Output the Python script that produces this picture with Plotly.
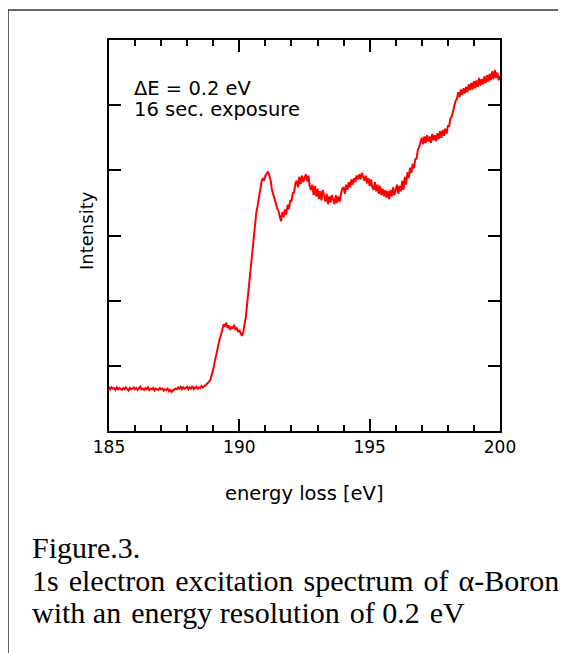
import numpy as np
import plotly.graph_objects as go

# ---- data ----
energy_start, energy_step = 185.0, 0.05
intensity = [
    0.68,0.64,0.67,0.65,0.66,0.63,0.67,0.64,0.66,0.65,
    0.63,0.66,0.64,0.67,0.65,0.62,0.66,0.64,0.65,0.67,
    0.64,0.66,0.63,0.65,0.68,0.64,0.65,0.63,0.66,0.64,
    0.67,0.63,0.65,0.64,0.66,0.62,0.65,0.64,0.63,0.66,
    0.64,0.65,0.62,0.64,0.63,0.65,0.61,0.63,0.60,0.62,
    0.63,0.65,0.64,0.67,0.65,0.68,0.64,0.67,0.65,0.66,
    0.68,0.64,0.67,0.65,0.69,0.64,0.66,0.68,0.65,0.67,
    0.66,0.69,0.67,0.68,0.70,0.72,0.74,0.76,0.80,0.86,
    0.95,1.05,1.15,1.25,1.30,1.42,1.48,1.58,1.64,1.60,
    1.66,1.58,1.62,1.55,1.60,1.57,1.63,1.56,1.58,1.52,
    1.55,1.50,1.46,1.52,1.62,1.75,1.95,2.15,2.40,2.65,
    2.85,3.05,3.20,3.35,3.45,3.60,3.72,3.82,3.88,3.84,
    3.92,3.95,3.98,3.92,3.85,3.70,3.62,3.55,3.50,3.42,
    3.38,3.28,3.22,3.36,3.28,3.40,3.32,3.47,3.40,3.54,
    3.52,3.65,3.66,3.80,3.84,3.74,3.90,3.79,3.92,3.82,
    3.88,3.94,3.83,3.92,3.76,3.70,3.78,3.62,3.76,3.60,
    3.72,3.56,3.68,3.54,3.70,3.58,3.52,3.64,3.48,3.60,
    3.51,3.62,3.54,3.48,3.62,3.50,3.60,3.52,3.64,3.72,
    3.74,3.64,3.78,3.70,3.82,3.74,3.86,3.78,3.88,3.82,
    3.92,3.86,3.94,3.86,3.96,3.88,3.84,3.92,3.80,3.88,
    3.76,3.86,3.74,3.70,3.82,3.68,3.78,3.64,3.76,3.62,
    3.72,3.60,3.70,3.58,3.68,3.56,3.70,3.60,3.74,3.62,
    3.72,3.78,3.64,3.76,3.68,3.84,3.70,3.90,3.78,3.97,
    3.88,4.04,3.96,4.10,4.03,4.17,4.18,4.32,4.36,4.44,
    4.50,4.40,4.52,4.42,4.54,4.44,4.52,4.42,4.56,4.46,
    4.54,4.45,4.57,4.48,4.60,4.50,4.62,4.53,4.64,4.56,
    4.68,4.68,4.80,4.83,4.92,4.96,5.07,5.10,5.20,5.12,
    5.24,5.16,5.26,5.18,5.28,5.20,5.32,5.23,5.34,5.24,
    5.37,5.26,5.38,5.28,5.42,5.30,5.40,5.32,5.44,5.34,
    5.46,5.36,5.48,5.38,5.52,5.40,5.54,5.42,5.50,5.38,
    5.45,
]
energy = np.round(energy_start + energy_step * np.arange(len(intensity)), 2)

x_tick_vals = [185, 190, 195, 200]
x_tick_text = ["185", "190", "195", "200"]
y_tick_vals = [1, 2, 3, 4, 5]

note_lines = ["\u0394E = 0.2 eV", "16 sec. exposure"]
hs = "\u200a"  # hair space: the reference caption has slightly wide word gaps
caption_lines = ["Figure.3.",
                 "1s " + hs + "electron " + hs + "excitation " + hs + "spectrum " + hs
                 + "of " + hs + "\u03b1-Boron",
                 "with an " + hs + "energy resolution " + hs + "of 0.2 " + hs + "eV"]

# the page body adds an 8px offset; work in window pixels, then shift
OFF = 8
W, H = 566 - OFF, 653 - OFF
L, R, T, B = 109, 500, 40, 431          # plot area in window pixels
pw, ph = R - L, B - T


def px(x):
    return (x - L) / pw


def py(y):
    return (B - y) / ph


fig = go.Figure()
fig.add_trace(go.Scatter(x=energy, y=intensity, mode="lines",
                         line=dict(color="#ff0000", width=2),
                         hoverinfo="skip", showlegend=False))

sans = "DejaVu Sans"
fig.update_layout(
    width=W, height=H,
    margin=dict(l=L - OFF, r=W - (R - OFF), t=T - OFF, b=H - (B - OFF)),
    paper_bgcolor="white", plot_bgcolor="white",
    showlegend=False,
    xaxis=dict(range=[185, 200], tickvals=x_tick_vals, ticktext=x_tick_text,
               ticks="inside", ticklen=12, tickwidth=1.5, tickcolor="black",
               minor=dict(dtick=1, tick0=185, ticks="inside", ticklen=6,
                          tickwidth=1.5, tickcolor="black"),
               showline=True, linewidth=2, linecolor="black", mirror="ticks",
               showgrid=False, zeroline=False,
               tickfont=dict(family=sans, size=17, color="black")),
    yaxis=dict(range=[0, 6], tickvals=y_tick_vals, showticklabels=False,
               ticks="inside", ticklen=12, tickwidth=1.5, tickcolor="black",
               showline=True, linewidth=2, linecolor="black", mirror="ticks",
               showgrid=False, zeroline=False),
)

ann = []
ann.append(dict(text=note_lines[0], x=px(132), y=py(88), xanchor="left",
                yanchor="middle", font=dict(family=sans, size=19.5, color="black")))
ann.append(dict(text=note_lines[1], x=px(132), y=py(110), xanchor="left",
                yanchor="middle", font=dict(family=sans, size=19.5, color="black")))
ann.append(dict(text="energy loss [eV]", x=0.5, y=py(493), xanchor="center",
                yanchor="middle", font=dict(family=sans, size=19.5, color="black")))
ann.append(dict(text="Intensity", x=px(86), y=py(231), textangle=-90,
                xanchor="center", yanchor="middle",
                font=dict(family=sans, size=18, color="black")))
for line, yc in zip(caption_lines, [547, 580, 612]):
    ann.append(dict(text=line, x=px(30), y=py(yc),
                    xanchor="left", yanchor="middle",
                    font=dict(family="Liberation Serif", size=30, color="black")))
for a in ann:
    a.update(xref="paper", yref="paper", showarrow=False)
fig.update_layout(annotations=ann)

frame = dict(color="#333333", width=1.5)
fig.add_shape(type="line", xref="paper", yref="paper",
              x0=px(8), x1=px(8), y0=py(10), y1=py(H + 30), line=frame)
fig.add_shape(type="line", xref="paper", yref="paper",
              x0=px(8), x1=px(W + 30), y0=py(10), y1=py(10), line=frame)

fig.write_html("out.html")
